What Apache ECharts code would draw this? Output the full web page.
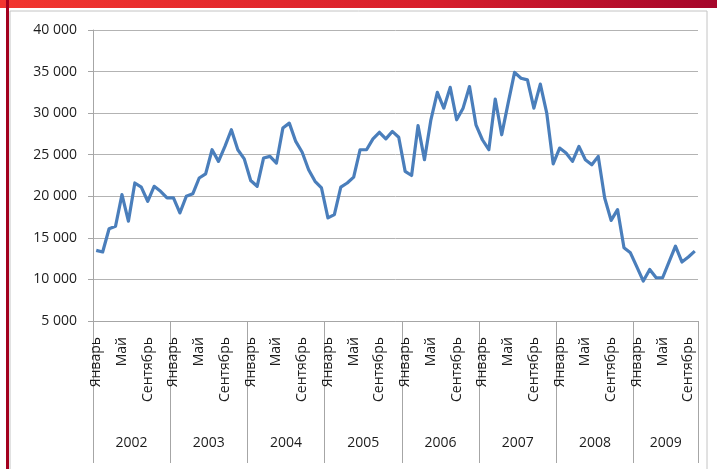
<!DOCTYPE html>
<html>
<head>
<meta charset="utf-8">
<script src="https://cdn.jsdelivr.net/npm/echarts@6/dist/echarts.min.js"></script>
<style>
  html, body { margin: 0; padding: 0; background: #ffffff; }
  #chart { width: 717px; height: 469px; }
</style>
</head>
<body>
<div id="chart"></div>
<script>
// Month names shown on the category axis
const MONTHS = ['Январь', 'Февраль', 'Март', 'Апрель', 'Май', 'Июнь',
                'Июль', 'Август', 'Сентябрь', 'Октябрь', 'Ноябрь', 'Декабрь'];
const YEARS = [2002, 2003, 2004, 2005, 2006, 2007, 2008, 2009];

// Monthly values, one array per year
const v2002 = [13500, 13300, 16100, 16400, 20200, 17000, 21600, 21100, 19400, 21200, 20600, 19800];
const v2003 = [19800, 18000, 20000, 20300, 22200, 22700, 25600, 24200, 26000, 28000, 25600, 24500];
const v2004 = [21900, 21200, 24600, 24800, 24000, 28200, 28800, 26600, 25300, 23200, 21800, 21000];
const v2005 = [17400, 17800, 21100, 21600, 22300, 25600, 25600, 26900, 27700, 26900, 27800, 27100];
const v2006 = [23000, 22500, 28500, 24400, 29200, 32500, 30600, 33100, 29200, 30600, 33200, 28600];
const v2007 = [26800, 25600, 31700, 27400, 31200, 34900, 34200, 34000, 30600, 33500, 30000, 23900];
const v2008 = [25800, 25200, 24200, 26000, 24400, 23800, 24800, 19800, 17100, 18400, 13800, 13200];
const v2009 = [11500, 9800, 11200, 10200, 10200, 12100, 14000, 12100, 12700, 13400];

const yearValues = [v2002, v2003, v2004, v2005, v2006, v2007, v2008, v2009];

// Flatten into one month-by-month series
const categories = [];
const values = [];
yearValues.forEach(function (arr, k) {
  arr.forEach(function (v, m) {
    categories.push(MONTHS[m] + ' ' + YEARS[k]);
    values.push(v);
  });
});

// Centre of each year's span (in month units) for the year labels
const yearCenters = [];
let start = 0;
yearValues.forEach(function (arr) {
  yearCenters.push(start + arr.length / 2);
  start += arr.length;
});
const totalMonths = start;

const FONT = 'Open Sans';
const TEXT = '#1c1c1c';
const GRID_GREY = '#b3b3b3';
const AXIS_GREY = '#a6a6a6';

const chart = echarts.init(document.getElementById('chart'), null, { renderer: 'canvas' });

chart.setOption({
  backgroundColor: '#ffffff',
  animation: false,
  graphic: [
    {
      type: 'rect', silent: true, z: -1,
      shape: { x: 10, y: 11, width: 697, height: 470 },
      style: { fill: '#ffffff', stroke: '#c4c4c4', lineWidth: 1 }
    },
    {
      type: 'rect', silent: true,
      shape: { x: 0, y: 0, width: 717, height: 8 },
      style: {
        fill: new echarts.graphic.LinearGradient(0, 0, 1, 0, [
          { offset: 0, color: '#f2362f' },
          { offset: 0.6, color: '#d81f2c' },
          { offset: 1, color: '#a5062b' }
        ])
      }
    },
    {
      type: 'rect', silent: true,
      shape: { x: 6, y: 0, width: 3, height: 469 },
      style: { fill: '#a3001e' }
    }
  ],
  grid: { left: 93, right: 19, top: 30, bottom: 148, containLabel: false },
  xAxis: [
    {
      type: 'category',
      data: categories,
      boundaryGap: true,
      axisLine: { show: true, lineStyle: { color: AXIS_GREY, width: 1 } },
      axisTick: {
        show: true,
        length: 142,
        interval: function (index) { return index % 12 === 0; },
        lineStyle: { color: AXIS_GREY, width: 1 }
      },
      axisLabel: {
        interval: 3,
        rotate: 90,
        margin: 16,
        fontFamily: FONT,
        fontSize: 14,
        color: TEXT,
        formatter: function (v) { return v.split(' ')[0]; }
      },
      splitLine: { show: false }
    },
    {
      type: 'value',
      min: 0,
      max: totalMonths,
      position: 'bottom',
      offset: 115,
      axisLine: { show: false },
      axisTick: { show: false },
      splitLine: { show: false },
      axisLabel: {
        customValues: yearCenters,
        margin: 0,
        fontFamily: FONT,
        fontSize: 14,
        color: TEXT,
        formatter: function (v) {
          const idx = yearCenters.indexOf(v);
          return idx >= 0 ? String(YEARS[idx]) : '';
        }
      }
    }
  ],
  yAxis: {
    type: 'value',
    min: 5000,
    max: 40000,
    interval: 5000,
    axisLine: { show: true, lineStyle: { color: AXIS_GREY, width: 1 } },
    axisTick: { show: true, length: 5, lineStyle: { color: AXIS_GREY } },
    splitLine: { show: true, lineStyle: { color: GRID_GREY, width: 1 } },
    axisLabel: {
      margin: 16,
      fontFamily: FONT,
      fontSize: 14,
      color: TEXT,
      formatter: function (v) {
        return String(v).replace(/\B(?=(\d{3})+(?!\d))/g, ' ');
      }
    }
  },
  series: [
    {
      type: 'line',
      xAxisIndex: 0,
      yAxisIndex: 0,
      data: values,
      showSymbol: false,
      symbol: 'none',
      smooth: false,
      lineStyle: { color: '#4a7ebb', width: 3.2, join: 'round' },
      itemStyle: { color: '#4a7ebb' }
    }
  ]
});
</script>
</body>
</html>
